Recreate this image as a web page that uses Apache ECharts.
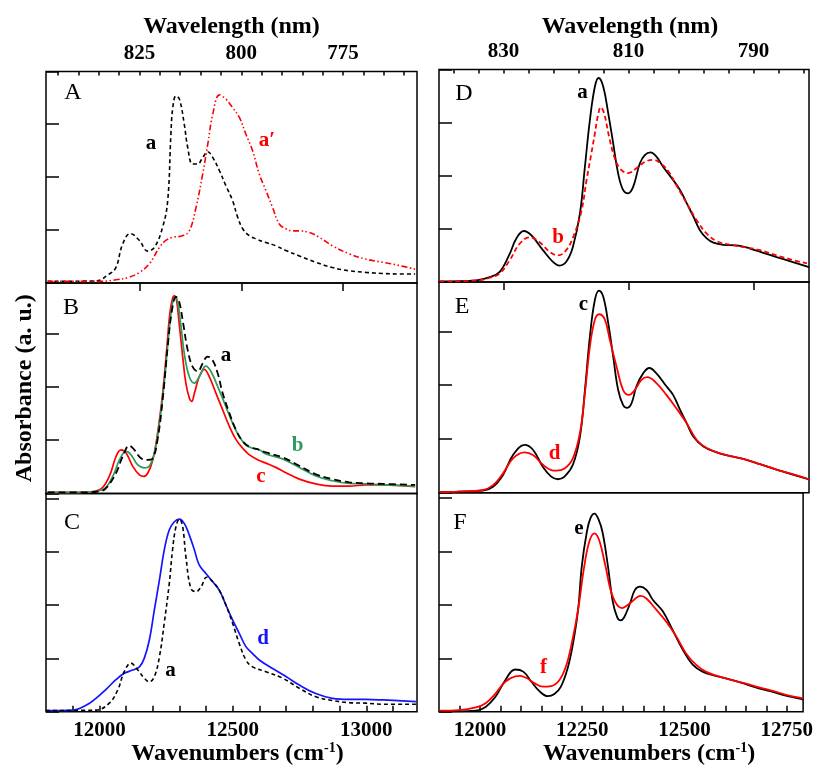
<!DOCTYPE html>
<html><head><meta charset="utf-8">
<script src="https://cdn.jsdelivr.net/npm/echarts@6/dist/echarts.min.js"></script>
<style>html,body{margin:0;padding:0;background:#fff}#c{width:816px;height:767px}</style>
</head><body><div id="c"></div>
<script>
// ---------- tick labels ----------
const LEFT_WN_LABELS = [12000, 12500, 13000];
const RIGHT_WN_LABELS = [12000, 12250, 12500, 12750];
const LEFT_NM_LABELS = [825, 800, 775];
const RIGHT_NM_LABELS = [830, 810, 790];

// ---------- Panel A ----------
const A_a_wn  = [11806,11987,12037,12062,12087,12116,12150,12181,12206,12237,12256,12268,12275,12287,12300,12318,12331,12349,12368,12387,12406,12425,12450,12474,12499,12518,12537,12562,12587,12624,12661,12699,12749,12811,12873,12936,12998,13061,13123,13183];
const A_a_abs = [0.03,0.04,0.17,0.29,0.73,0.93,0.80,0.60,0.67,1.05,1.55,2.80,3.30,3.52,3.46,2.99,2.55,2.24,2.24,2.36,2.47,2.36,2.11,1.83,1.55,1.24,1.02,0.89,0.83,0.76,0.70,0.61,0.51,0.39,0.29,0.23,0.20,0.18,0.17,0.17];
const A_ap_wn  = [11806,12000,12062,12112,12150,12187,12225,12249,12274,12312,12337,12362,12387,12406,12425,12450,12474,12499,12524,12549,12574,12599,12624,12649,12674,12699,12724,12749,12786,12824,12873,12936,12998,13061,13123,13183];
const A_ap_abs = [0.03,0.03,0.06,0.11,0.20,0.36,0.67,0.80,0.86,0.89,0.98,1.42,2.05,2.61,3.18,3.54,3.46,3.30,3.12,2.80,2.49,2.05,1.74,1.42,1.11,1.02,0.98,0.98,0.95,0.86,0.70,0.55,0.45,0.39,0.33,0.26];

// ---------- Panel B ----------
const B_c_wn  = [11806,11925,12000,12037,12062,12081,12100,12125,12150,12165,12181,12200,12218,12237,12252,12264,12274,12281,12289,12299,12312,12324,12337,12346,12356,12374,12393,12412,12437,12462,12487,12512,12537,12561,12599,12624,12661,12699,12749,12811,12873,12936,12998,13061,13183];
const B_c_abs = [0.02,0.02,0.07,0.32,0.69,0.82,0.76,0.51,0.35,0.32,0.38,0.63,1.13,1.88,2.69,3.38,3.66,3.71,3.63,3.19,2.57,2.07,1.79,1.73,1.88,2.19,2.33,2.19,1.88,1.57,1.26,1.01,0.85,0.73,0.62,0.57,0.49,0.39,0.27,0.18,0.14,0.14,0.16,0.16,0.13];
const B_b_wn  = [11806,11925,12012,12050,12075,12100,12118,12143,12168,12187,12206,12225,12243,12259,12272,12283,12293,12306,12318,12337,12356,12374,12399,12418,12443,12474,12499,12524,12549,12574,12599,12624,12686,12749,12811,12873,12936,12998,13061,13183];
const B_b_abs = [0.02,0.02,0.07,0.32,0.63,0.79,0.73,0.54,0.48,0.51,0.76,1.32,2.07,2.94,3.51,3.69,3.60,3.13,2.63,2.19,2.07,2.19,2.39,2.29,2.01,1.63,1.32,1.07,0.91,0.85,0.82,0.74,0.65,0.49,0.33,0.24,0.19,0.18,0.16,0.14];
const B_a_wn  = [11806,11925,12000,12025,12062,12087,12112,12131,12156,12181,12200,12218,12237,12256,12272,12287,12299,12314,12331,12349,12368,12387,12405,12422,12443,12462,12487,12512,12537,12561,12599,12624,12686,12749,12811,12873,12936,12998,13061,13183];
const B_a_abs = [0.02,0.02,0.04,0.10,0.38,0.69,0.90,0.82,0.66,0.63,0.66,1.01,1.76,2.76,3.44,3.69,3.60,3.19,2.69,2.38,2.29,2.44,2.57,2.52,2.26,1.88,1.51,1.19,0.98,0.88,0.82,0.77,0.68,0.52,0.36,0.27,0.21,0.19,0.18,0.16];

// ---------- Panel C ----------
const C_d_wn  = [11800,11900,11950,11987,12025,12062,12093,12125,12150,12168,12187,12206,12225,12243,12262,12281,12300,12318,12337,12356,12374,12399,12424,12449,12474,12499,12524,12549,12574,12599,12649,12699,12749,12811,12873,12936,12998,13061,13186];
const C_d_abs = [0.02,0.03,0.12,0.25,0.42,0.60,0.72,0.78,0.84,1.00,1.34,1.91,2.47,3.03,3.41,3.56,3.61,3.53,3.31,3.03,2.75,2.59,2.44,2.28,2.00,1.72,1.47,1.22,1.09,0.97,0.81,0.66,0.50,0.34,0.25,0.23,0.23,0.22,0.19];
const C_a_wn  = [11800,11987,12037,12069,12093,12118,12144,12168,12187,12206,12225,12243,12262,12274,12287,12300,12312,12324,12343,12362,12381,12402,12424,12449,12474,12499,12524,12549,12574,12624,12686,12749,12811,12873,12936,12998,13061,13186];
const C_a_abs = [0.02,0.03,0.16,0.41,0.75,0.91,0.78,0.63,0.56,0.66,1.03,1.66,2.41,3.03,3.47,3.61,3.47,2.91,2.31,2.25,2.34,2.52,2.44,2.28,2.00,1.66,1.28,0.97,0.84,0.75,0.63,0.44,0.28,0.21,0.17,0.16,0.14,0.14];

// ---------- Panel D ----------
const D_a_wn  = [11901,11990,12022,12046,12070,12086,12104,12122,12150,12174,12190,12206,12222,12239,12251,12263,12275,12284,12295,12307,12319,12331,12343,12355,12367,12383,12395,12409,12423,12439,12463,12480,12496,12512,12528,12544,12560,12584,12616,12648,12680,12712,12753,12790];
const D_a_abs = [0.01,0.03,0.09,0.19,0.53,0.82,0.96,0.88,0.60,0.38,0.31,0.38,0.66,1.29,2.17,3.05,3.68,3.84,3.68,3.18,2.61,2.04,1.73,1.67,1.79,2.23,2.39,2.44,2.36,2.17,1.92,1.73,1.48,1.23,0.97,0.82,0.74,0.70,0.69,0.63,0.55,0.47,0.37,0.28];
const D_b_wn  = [11901,11990,12022,12046,12070,12094,12118,12142,12166,12186,12206,12226,12243,12255,12266,12275,12282,12289,12297,12309,12322,12337,12355,12375,12395,12415,12435,12452,12471,12496,12520,12544,12568,12600,12632,12672,12712,12753,12785];
const D_b_abs = [0.01,0.03,0.08,0.16,0.41,0.72,0.84,0.75,0.57,0.50,0.60,0.91,1.35,1.92,2.40,2.80,3.12,3.29,3.18,2.74,2.35,2.12,2.05,2.14,2.26,2.30,2.22,2.08,1.82,1.48,1.16,0.91,0.77,0.70,0.66,0.60,0.50,0.41,0.35];

// ---------- Panel E ----------
const E_c_wn  = [11901,11945,12006,12030,12054,12078,12106,12126,12150,12170,12186,12202,12222,12239,12251,12263,12275,12285,12295,12307,12319,12331,12343,12353,12363,12375,12391,12406,12423,12447,12463,12480,12496,12512,12536,12568,12600,12632,12672,12712,12753,12790];
const E_c_abs = [0.01,0.02,0.04,0.11,0.33,0.70,0.89,0.80,0.48,0.30,0.25,0.30,0.52,1.04,1.91,2.91,3.59,3.76,3.65,3.16,2.53,1.91,1.63,1.58,1.66,1.98,2.22,2.32,2.22,1.98,1.82,1.54,1.29,1.04,0.86,0.75,0.68,0.63,0.53,0.43,0.33,0.25];
const E_d_wn  = [11901,11945,12006,12030,12054,12078,12106,12126,12150,12170,12182,12202,12222,12239,12251,12263,12275,12285,12299,12311,12327,12343,12357,12371,12387,12401,12423,12447,12471,12496,12520,12544,12576,12608,12640,12672,12712,12753,12790];
const E_d_abs = [0.01,0.02,0.05,0.14,0.36,0.64,0.75,0.70,0.52,0.42,0.41,0.45,0.64,1.11,1.85,2.72,3.22,3.32,3.22,2.84,2.35,1.91,1.82,1.91,2.10,2.15,2.04,1.82,1.57,1.29,0.98,0.83,0.73,0.67,0.61,0.53,0.43,0.34,0.25];

// ---------- Panel F ----------
const F_e_wn  = [11901,11990,12014,12038,12062,12086,12106,12126,12146,12166,12182,12198,12214,12227,12240,12249,12261,12270,12280,12290,12300,12313,12325,12335,12343,12352,12367,12379,12391,12407,12423,12447,12471,12496,12520,12544,12576,12608,12640,12672,12712,12753,12790];
const F_e_abs = [0.00,0.02,0.09,0.28,0.59,0.79,0.75,0.56,0.38,0.29,0.33,0.47,0.80,1.25,1.91,2.72,3.35,3.62,3.71,3.60,3.35,2.72,2.05,1.78,1.71,1.76,2.03,2.28,2.34,2.28,2.09,1.88,1.53,1.16,0.88,0.75,0.67,0.61,0.54,0.46,0.38,0.29,0.23];
const F_f_wn  = [11901,11949,11990,12014,12038,12062,12086,12098,12114,12134,12154,12174,12194,12210,12225,12240,12255,12268,12280,12292,12307,12325,12347,12367,12393,12407,12431,12455,12480,12504,12528,12552,12584,12616,12648,12680,12720,12761,12790];
const F_f_abs = [0.02,0.03,0.08,0.16,0.34,0.56,0.66,0.67,0.63,0.53,0.47,0.48,0.59,0.84,1.30,1.91,2.72,3.20,3.34,3.20,2.72,2.15,1.94,2.03,2.17,2.12,1.91,1.69,1.41,1.09,0.88,0.75,0.66,0.59,0.53,0.46,0.38,0.29,0.25];

// ---------- build ----------
const FF = '"Liberation Serif", "Times New Roman", serif';
const RED = '#ff0000', GREEN = '#2e9a5c', BLUE = '#1414ff', BLACK = '#000000';
function pairs(xs, ys) { return xs.map((x, i) => [x, ys[i]]); }
function range(a, b, s) { const r = []; for (let v = a; v <= b + 1e-9; v += s) r.push(+v.toFixed(3)); return r; }

const LX = 46, LW = 371, RX = 439, RW = 370;
const gridBase = { show: true, borderColor: '#000', borderWidth: 1.5, backgroundColor: 'transparent', containLabel: false };
const grids = [
  Object.assign({ left: LX, top: 71.5, width: LW, height: 211.5 }, gridBase),   // A
  Object.assign({ left: LX, top: 283,  width: LW, height: 210.5 }, gridBase),   // B
  Object.assign({ left: LX, top: 493.5, width: LW, height: 218.2 }, gridBase),  // C
  Object.assign({ left: RX, top: 69.5, width: RW, height: 212.5 }, gridBase),   // D
  Object.assign({ left: RX, top: 282,  width: RW, height: 210.7 }, gridBase),   // E
  Object.assign({ left: RX, top: 492.7, width: RW, height: 219 }, gridBase),    // F
  { left: LX, top: 71.5, width: LW, height: 211.5, show: false },               // A top-long ticks
  { left: RX, top: 69.5, width: RW, height: 212.5, show: false }                // D top-long ticks
];

const tickLine = { color: '#000', width: 1.5 };
const labelFont = { fontFamily: FF, fontWeight: 'bold', fontSize: 21, color: '#000' };
const nameFont = { fontFamily: FF, fontWeight: 'bold', fontSize: 24, color: '#000' };
const LMIN = 11800, LMAX = 13190, RMIN = 11900, RMAX = 12790;

function hiddenX(gi, min, max) { return { type: 'value', gridIndex: gi, min, max, show: false }; }
function bottomX(gi, min, max, ticks, labels, padLeft) {
  return {
    type: 'value', gridIndex: gi, position: 'bottom', min, max,
    axisLine: { show: false },
    axisTick: { show: true, inside: true, length: 6, customValues: ticks, lineStyle: tickLine },
    axisLabel: { show: true, customValues: labels, margin: 8, ...labelFont, formatter: v => String(v) },
    splitLine: { show: false },
    name: 'Wavenumbers (cm{sup|-1})', nameLocation: 'middle', nameGap: 22,
    nameTextStyle: Object.assign({}, nameFont, { padding: [0, 0, 0, padLeft],
      rich: { sup: { fontFamily: FF, fontWeight: 'bold', fontSize: 14, color: '#000', verticalAlign: 'top', padding: [0, 0, 10, 0] } } })
  };
}
function topShort(gi, min, max, ticks) {
  return {
    type: 'value', gridIndex: gi, position: 'top', inverse: true, min, max,
    axisLine: { show: false },
    axisTick: { show: true, inside: true, length: 4, customValues: ticks, lineStyle: tickLine },
    axisLabel: { show: false }, splitLine: { show: false }
  };
}
function topLong(gi, min, max, labels, gap, padLeft) {
  return {
    type: 'value', gridIndex: gi, position: 'top', inverse: true, min, max,
    axisLine: { show: false },
    axisTick: { show: true, inside: true, length: 8, customValues: labels, lineStyle: tickLine },
    axisLabel: { show: true, customValues: labels, margin: 7, ...labelFont, formatter: v => String(v) },
    splitLine: { show: false },
    name: 'Wavelength (nm)', nameLocation: 'middle', nameGap: gap,
    nameTextStyle: Object.assign({}, nameFont, { padding: [0, 0, 0, padLeft] })
  };
}
function yAx(gi, max, extra) {
  return Object.assign({
    type: 'value', gridIndex: gi, min: 0, max, interval: 1,
    axisLine: { show: false },
    axisTick: { show: true, inside: true, length: 13, lineStyle: tickLine },
    axisLabel: { show: false }, splitLine: { show: false }
  }, extra || {});
}

const xAxes = [
  hiddenX(0, LMIN, LMAX),
  hiddenX(1, LMIN, LMAX),
  bottomX(2, LMIN, LMAX, range(11900, 13100, 100), LEFT_WN_LABELS, 12),
  hiddenX(3, RMIN, RMAX),
  hiddenX(4, RMIN, RMAX),
  bottomX(5, RMIN, RMAX, range(11950, 12750, 50), RIGHT_WN_LABELS, 56),
  topShort(0, 756.8, 848, range(760, 845, 5)),
  topLong(6, 756.8, 848, LEFT_NM_LABELS, 33, 0),
  topShort(3, 781.1, 840.3, range(782, 838, 4)),
  topLong(7, 781.1, 840.3, RIGHT_NM_LABELS, 31, 12)
];
const yAxes = [
  yAx(0, 3.98),
  yAx(1, 3.95, { name: 'Absorbance (a. u.)', nameLocation: 'middle', nameGap: 9, nameTextStyle: nameFont }),
  yAx(2, 4.09),
  yAx(3, 4.0),
  yAx(4, 3.92),
  yAx(5, 4.1),
  { type: 'value', gridIndex: 6, min: 0, max: 1, show: false },
  { type: 'value', gridIndex: 7, min: 0, max: 1, show: false }
];

function line(xi, xs, ys, color, type, width) {
  return {
    type: 'line', xAxisIndex: xi, yAxisIndex: xi, data: pairs(xs, ys),
    showSymbol: false, symbol: 'none', smooth: 0.4, silent: true,
    lineStyle: { color, width: width || 1.7, type: type || 'solid' }
  };
}
const DASH_DOT_DOT = [6, 2.5, 1.5, 2.5, 1.5, 2.5];
const series = [
  line(0, A_a_wn, A_a_abs, BLACK, [4, 3], 1.6),
  line(0, A_ap_wn, A_ap_abs, RED, DASH_DOT_DOT, 1.6),
  line(1, B_c_wn, B_c_abs, RED, 'solid', 1.7),
  line(1, B_b_wn, B_b_abs, GREEN, 'solid', 1.7),
  line(1, B_a_wn, B_a_abs, BLACK, [7, 4], 1.8),
  line(2, C_d_wn, C_d_abs, BLUE, 'solid', 1.7),
  line(2, C_a_wn, C_a_abs, BLACK, [4, 3], 1.6),
  line(3, D_a_wn, D_a_abs, BLACK, 'solid', 1.8),
  line(3, D_b_wn, D_b_abs, RED, [5, 3], 1.8),
  line(4, E_c_wn, E_c_abs, BLACK, 'solid', 1.8),
  line(4, E_d_wn, E_d_abs, RED, 'solid', 1.8),
  line(5, F_e_wn, F_e_abs, BLACK, 'solid', 1.8),
  line(5, F_f_wn, F_f_abs, RED, 'solid', 1.8)
];

function txt(x, y, text, color, size, weight) {
  return { type: 'text', x, y, silent: true, z: 100,
    style: { text, fill: color, font: (weight || 'normal') + ' ' + size + 'px ' + FF, align: 'center', verticalAlign: 'middle' } };
}
const graphics = [
  txt(73, 93, 'A', BLACK, 24), txt(71, 308, 'B', BLACK, 24), txt(72, 523, 'C', BLACK, 24),
  txt(464, 94, 'D', BLACK, 24), txt(462, 307, 'E', BLACK, 24), txt(460, 523, 'F', BLACK, 24),
  txt(151, 144, 'a', BLACK, 21, 'bold'), txt(267, 141, 'a\u2032', RED, 21, 'bold'),
  txt(226, 355.5, 'a', BLACK, 21, 'bold'), txt(297.5, 446, 'b', GREEN, 21, 'bold'), txt(261, 477, 'c', RED, 21, 'bold'),
  txt(263, 638.5, 'd', BLUE, 21, 'bold'), txt(170.5, 670.5, 'a', BLACK, 21, 'bold'),
  txt(582.5, 92.5, 'a', BLACK, 21, 'bold'), txt(558, 238, 'b', RED, 21, 'bold'),
  txt(583.5, 305, 'c', BLACK, 21, 'bold'), txt(554.5, 453.5, 'd', RED, 21, 'bold'),
  txt(579, 529, 'e', BLACK, 21, 'bold'), txt(543.5, 668, 'f', RED, 21, 'bold')
];

const chart = echarts.init(document.getElementById('c'), null, { renderer: 'canvas' });
chart.setOption({
  animation: false,
  backgroundColor: '#ffffff',
  grid: grids, xAxis: xAxes, yAxis: yAxes, series, graphic: graphics
});
</script></body></html>
